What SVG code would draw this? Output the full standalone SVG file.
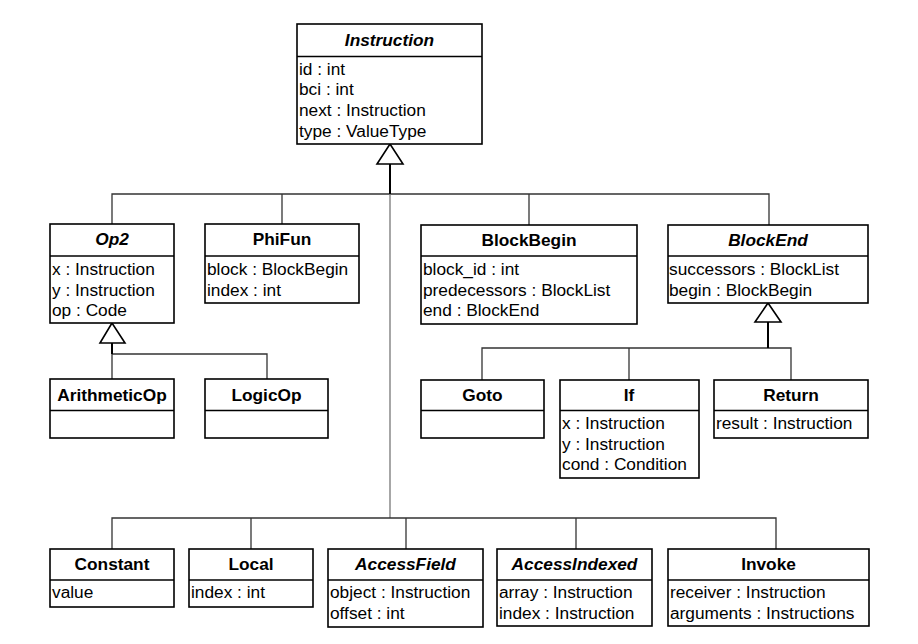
<svg xmlns="http://www.w3.org/2000/svg" width="918" height="644" viewBox="0 0 918 644">
<style>
.box{fill:#fff;stroke:#000;stroke-width:1.6}
.div{stroke:#000;stroke-width:1.6}
.hd{font-family:"Liberation Sans",Arial,sans-serif;font-size:17.3px;font-weight:bold;text-anchor:middle;fill:#000}
.it{font-style:italic}
.at{font-family:"Liberation Sans",Arial,sans-serif;font-size:17.3px;fill:#000}
.ln{fill:none;stroke:#333;stroke-width:1.3}
.th{fill:none;stroke:#000;stroke-width:2}
.tri{fill:#fff;stroke:#000;stroke-width:1.6}
</style>
<rect width="918" height="644" fill="#fff"/>
<g id="connectors">
<polyline class="ln" points="112,224 112,194 769,194 769,225"/>
<line class="ln" x1="282" y1="194" x2="282" y2="224"/>
<line class="ln" x1="529" y1="194" x2="529" y2="225"/>
<line class="ln" x1="390" y1="194" x2="390" y2="518" style="stroke:#777"/>
<line class="th" x1="390" y1="164" x2="390" y2="194"/>
<polygon class="tri" points="390,144 377,164 403,164"/>
<polyline class="ln" points="112,549 112,518 776,518 776,549"/>
<line class="ln" x1="251" y1="518" x2="251" y2="549"/>
<line class="ln" x1="406" y1="518" x2="406" y2="549"/>
<line class="ln" x1="576" y1="518" x2="576" y2="549"/>
<polyline class="ln" points="112,379 112,354 267,354 267,379"/>
<line class="th" x1="112" y1="343" x2="112" y2="354"/>
<polygon class="tri" points="112,323 100,343 125,343"/>
<polyline class="ln" points="482,380 482,348 791,348 791,380"/>
<line class="ln" x1="629" y1="348" x2="629" y2="380"/>
<line class="th" x1="768" y1="322" x2="768" y2="348"/>
<polygon class="tri" points="768,303 755,322 781,322"/>
</g>
<g id="Instruction">
<rect class="box" x="297" y="24" width="185" height="120"/>
<line class="div" x1="297" y1="56.5" x2="482" y2="56.5"/>
<text class="hd it" x="389.5" y="46">Instruction</text>
<text class="at" x="299" y="74.5">id : int</text>
<text class="at" x="299" y="95.2">bci : int</text>
<text class="at" x="299" y="115.9">next : Instruction</text>
<text class="at" x="299" y="136.6">type : ValueType</text>
</g>
<g id="Op2">
<rect class="box" x="50" y="224" width="124" height="99"/>
<line class="div" x1="50" y1="256" x2="174" y2="256"/>
<text class="hd it" x="112" y="245">Op2</text>
<text class="at" x="52" y="275">x : Instruction</text>
<text class="at" x="52" y="295.7">y : Instruction</text>
<text class="at" x="52" y="316.4">op : Code</text>
</g>
<g id="PhiFun">
<rect class="box" x="205" y="224" width="154" height="79"/>
<line class="div" x1="205" y1="256" x2="359" y2="256"/>
<text class="hd" x="282" y="245">PhiFun</text>
<text class="at" x="207" y="275">block : BlockBegin</text>
<text class="at" x="207" y="295.7">index : int</text>
</g>
<g id="BlockBegin">
<rect class="box" x="421" y="225" width="216" height="99"/>
<line class="div" x1="421" y1="256" x2="637" y2="256"/>
<text class="hd" x="529" y="246">BlockBegin</text>
<text class="at" x="423" y="275">block_id : int</text>
<text class="at" x="423" y="295.7">predecessors : BlockList</text>
<text class="at" x="423" y="316.4">end : BlockEnd</text>
</g>
<g id="BlockEnd">
<rect class="box" x="668" y="225" width="200" height="78"/>
<line class="div" x1="668" y1="256" x2="868" y2="256"/>
<text class="hd it" x="768" y="246">BlockEnd</text>
<text class="at" x="669" y="275">successors : BlockList</text>
<text class="at" x="669" y="295.7">begin : BlockBegin</text>
</g>
<g id="ArithmeticOp">
<rect class="box" x="50" y="379" width="124" height="59"/>
<line class="div" x1="50" y1="410.5" x2="174" y2="410.5"/>
<text class="hd" x="112" y="400.5">ArithmeticOp</text>
</g>
<g id="LogicOp">
<rect class="box" x="205" y="379" width="123" height="59"/>
<line class="div" x1="205" y1="410.5" x2="328" y2="410.5"/>
<text class="hd" x="266.5" y="400.5">LogicOp</text>
</g>
<g id="Goto">
<rect class="box" x="421" y="380" width="123" height="58"/>
<line class="div" x1="421" y1="410.5" x2="544" y2="410.5"/>
<text class="hd" x="482.5" y="401">Goto</text>
</g>
<g id="If">
<rect class="box" x="560" y="380" width="139" height="98"/>
<line class="div" x1="560" y1="410.5" x2="699" y2="410.5"/>
<text class="hd" x="629" y="401">If</text>
<text class="at" x="562" y="429">x : Instruction</text>
<text class="at" x="562" y="449.7">y : Instruction</text>
<text class="at" x="562" y="470.4">cond : Condition</text>
</g>
<g id="Return">
<rect class="box" x="714" y="380" width="154" height="58"/>
<line class="div" x1="714" y1="410.5" x2="868" y2="410.5"/>
<text class="hd" x="791" y="401">Return</text>
<text class="at" x="716" y="429">result : Instruction</text>
</g>
<g id="Constant">
<rect class="box" x="50" y="549" width="124" height="58"/>
<line class="div" x1="50" y1="580" x2="174" y2="580"/>
<text class="hd" x="112" y="570">Constant</text>
<text class="at" x="52" y="598">value</text>
</g>
<g id="Local">
<rect class="box" x="189" y="549" width="124" height="58"/>
<line class="div" x1="189" y1="580" x2="313" y2="580"/>
<text class="hd" x="251" y="570">Local</text>
<text class="at" x="191" y="598">index : int</text>
</g>
<g id="AccessField">
<rect class="box" x="328" y="549" width="155" height="78"/>
<line class="div" x1="328" y1="580" x2="483" y2="580"/>
<text class="hd it" x="405.5" y="570">AccessField</text>
<text class="at" x="330" y="598">object : Instruction</text>
<text class="at" x="330" y="618.7">offset : int</text>
</g>
<g id="AccessIndexed">
<rect class="box" x="497" y="549" width="155" height="77"/>
<line class="div" x1="497" y1="580" x2="652" y2="580"/>
<text class="hd it" x="574.5" y="570">AccessIndexed</text>
<text class="at" x="499" y="598">array : Instruction</text>
<text class="at" x="499" y="618.7">index : Instruction</text>
</g>
<g id="Invoke">
<rect class="box" x="668" y="549" width="201" height="77"/>
<line class="div" x1="668" y1="580" x2="869" y2="580"/>
<text class="hd" x="768.5" y="570">Invoke</text>
<text class="at" x="670" y="598">receiver : Instruction</text>
<text class="at" x="670" y="618.7">arguments : Instructions</text>
</g>
</svg>
